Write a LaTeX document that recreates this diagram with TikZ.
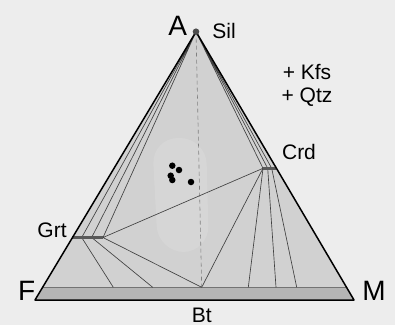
\documentclass[tikz,border=0pt]{standalone}
\usepackage{fontspec}
\setmainfont{Liberation Sans}
\begin{document}
\begin{tikzpicture}[x=1pt,y=-1pt,
  edge/.style={line width=1.5pt,black,line join=round},
  tie/.style={line width=0.65pt,black!75},
  bar/.style={line width=2.4pt,black!65},
  big/.style={font=\fontsize{28}{28}\selectfont,inner sep=0pt,anchor=base},
  lab/.style={font=\fontsize{21}{21}\selectfont,inner sep=0pt,anchor=base},
  dot/.style={circle,fill=black,inner sep=0pt,minimum size=6.5pt}]
\fill[black!7] (0,0) rectangle (395,325);
\useasboundingbox (0,0) rectangle (395,325);
% corners
\coordinate (A) at (196,31.7);
\coordinate (F) at (35,300);
\coordinate (M) at (354,300);
\coordinate (bl) at (42.6,287.3);
\coordinate (br) at (346.5,287.3);
\coordinate (Bt) at (201.7,287.3);
% garnet bar
\coordinate (g0) at (72.4,237.5);
\coordinate (g1) at (81.7,237.5);
\coordinate (g2) at (91.7,237.5);
\coordinate (g3) at (103.0,237.5);
% cordierite bar
\coordinate (c0) at (263.0,168.3);
\coordinate (c1) at (267.7,168.3);
\coordinate (c2) at (271.7,168.3);
\coordinate (c3) at (276.4,168.3);
% bottom ends
\coordinate (b1) at (113.3,287.3);
\coordinate (b2) at (152.7,287.3);
\coordinate (b3) at (248.3,287.3);
\coordinate (b4) at (276.0,287.3);
\coordinate (b5) at (296.7,287.3);
% fills
\fill[black!18] (A) -- (bl) -- (br) -- cycle;
\fill[black!16,rounded corners=26pt] (152,138) -- (206,138) -- (209,252) -- (158,252) -- cycle;
\fill[black!29] (bl) -- (br) -- (M) -- (F) -- cycle;
\draw[line width=0.7pt,black!55] (bl) -- (br);
% dashed A--Bt
\draw[black!50,line width=0.6pt,dash pattern=on 4pt off 3pt] (A) -- (Bt);
% tie lines from A
\draw[tie] (A) -- (g1) (A) -- (g2) (A) -- (g3);
\draw[tie] (A) -- (c0) (A) -- (c1) (A) -- (c2);
% tie lines
\draw[tie] (g3) -- (c0) (g3) -- (Bt) (c0) -- (Bt);
\draw[tie] (g1) -- (b1) (g2) -- (b2);
\draw[tie] (c0) -- (b3) (c1) -- (b4) (c2) -- (b5);
% bars
\draw[bar] (g0) -- (g3);
\draw[bar] (c0) -- (c3);
% outline
\draw[edge] (A) -- (F) -- (M) -- cycle;
\fill[black!70] (A) circle (3.3pt);
% dots
\node[dot] (d1) at (172.3,165.7) {};
\node[dot] (d2) at (179,170) {};
\node[dot] (d3) at (170.7,175.7) {};
\node[dot] (d4) at (172.3,180) {};
\node[dot] (d5) at (191,182) {};
% labels
\node[big] (lA) at (177.7,35) {A};
\node[big] (lF) at (26.7,300) {F};
\node[big] (lM) at (374,300) {M};
\node[lab] (lSil) at (224,38.5) {Sil};
\node[lab] (lK) at (307,79) {+ Kfs};
\node[lab] (lQ) at (307,102) {+ Qtz};
\node[lab] (lCrd) at (299,159.5) {Crd};
\node[lab] (lGrt) at (52,237) {Grt};
\node[lab] (lBt) at (201.7,322) {Bt};
\end{tikzpicture}
\end{document}
